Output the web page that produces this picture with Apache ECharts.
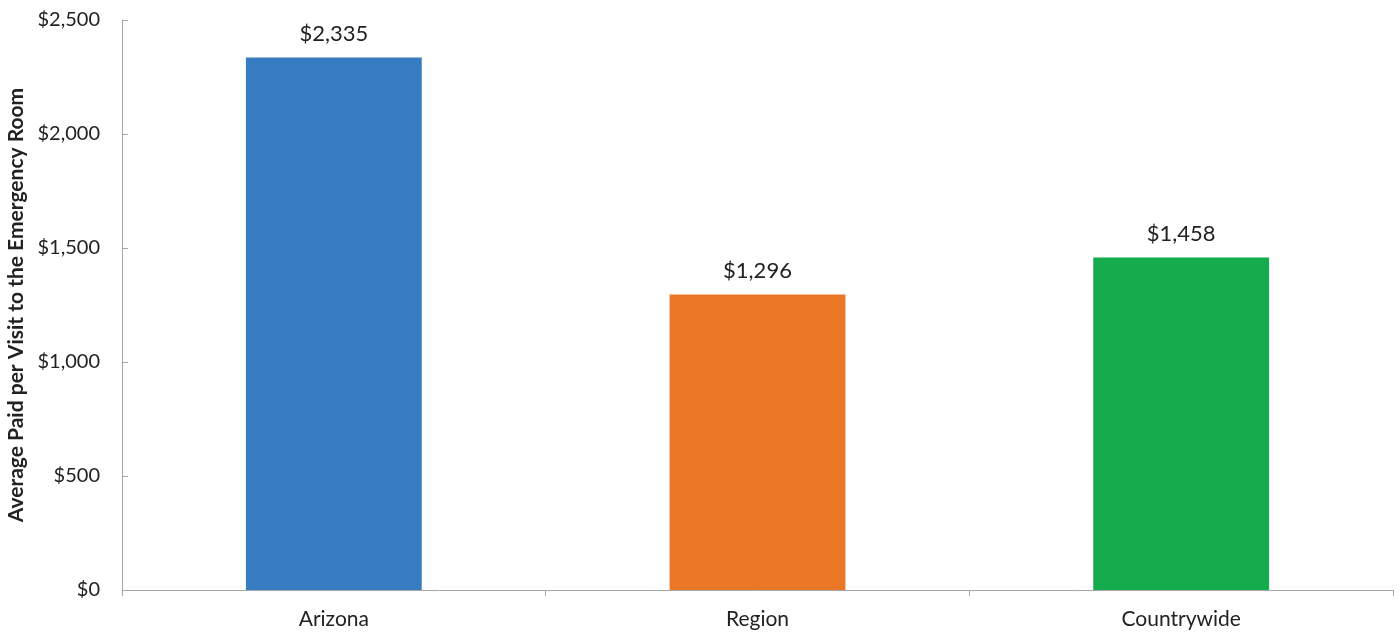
<!DOCTYPE html>
<html><head><meta charset="utf-8">
<script src="https://cdn.jsdelivr.net/npm/echarts@6/dist/echarts.min.js"></script>
<style>html,body{margin:0;padding:0;background:#fff}#c{width:1400px;height:632px}</style>
</head><body><div id="c"></div>
<script>
const categories = ["Arizona", "Region", "Countrywide"];
const values = [2335, 1296, 1458];
const colors = ["#377CC1", "#EA7726", "#13AB4B"];
const yTicks = [0, 500, 1000, 1500, 2000, 2500];
const yAxisTitle = "Average Paid per Visit to the Emergency Room";
const fontFamily = "Lato, 'Open Sans', sans-serif";
const fmt = v => "$" + v.toLocaleString("en-US");
const chart = echarts.init(document.getElementById("c"));
chart.setOption({
  animation: false,
  grid: { left: 122, right: 7, top: 20, bottom: 42, containLabel: false, outerBoundsMode: "none" },
  xAxis: {
    type: "category", data: categories,
    axisLine: { lineStyle: { color: "#A6A6A6", width: 1 } },
    axisTick: { show: true, length: 6, alignWithLabel: false, lineStyle: { color: "#A6A6A6" } },
    axisLabel: { color: "#222", fontSize: 21, fontFamily, margin: 19 }
  },
  yAxis: {
    type: "value", min: yTicks[0], max: yTicks[yTicks.length - 1], interval: 500,
    name: yAxisTitle, nameLocation: "middle", nameGap: 94,
    nameTextStyle: { fontSize: 21, fontWeight: "bold", color: "#222", fontFamily },
    axisLine: { show: true, lineStyle: { color: "#A6A6A6" } },
    axisTick: { show: true, inside: true, length: 6, lineStyle: { color: "#A6A6A6" } },
    splitLine: { show: false },
    axisLabel: { color: "#222", fontSize: 20, fontFamily, margin: 22, formatter: v => fmt(v) }
  },
  series: [{
    type: "bar", barWidth: "41.5%",
    data: values.map((v, i) => ({ value: v, itemStyle: { color: colors[i] } })),
    label: { show: true, position: "top", distance: 13, color: "#222", fontSize: 22, fontFamily, formatter: p => fmt(p.value) }
  }]
});
</script></body></html>
